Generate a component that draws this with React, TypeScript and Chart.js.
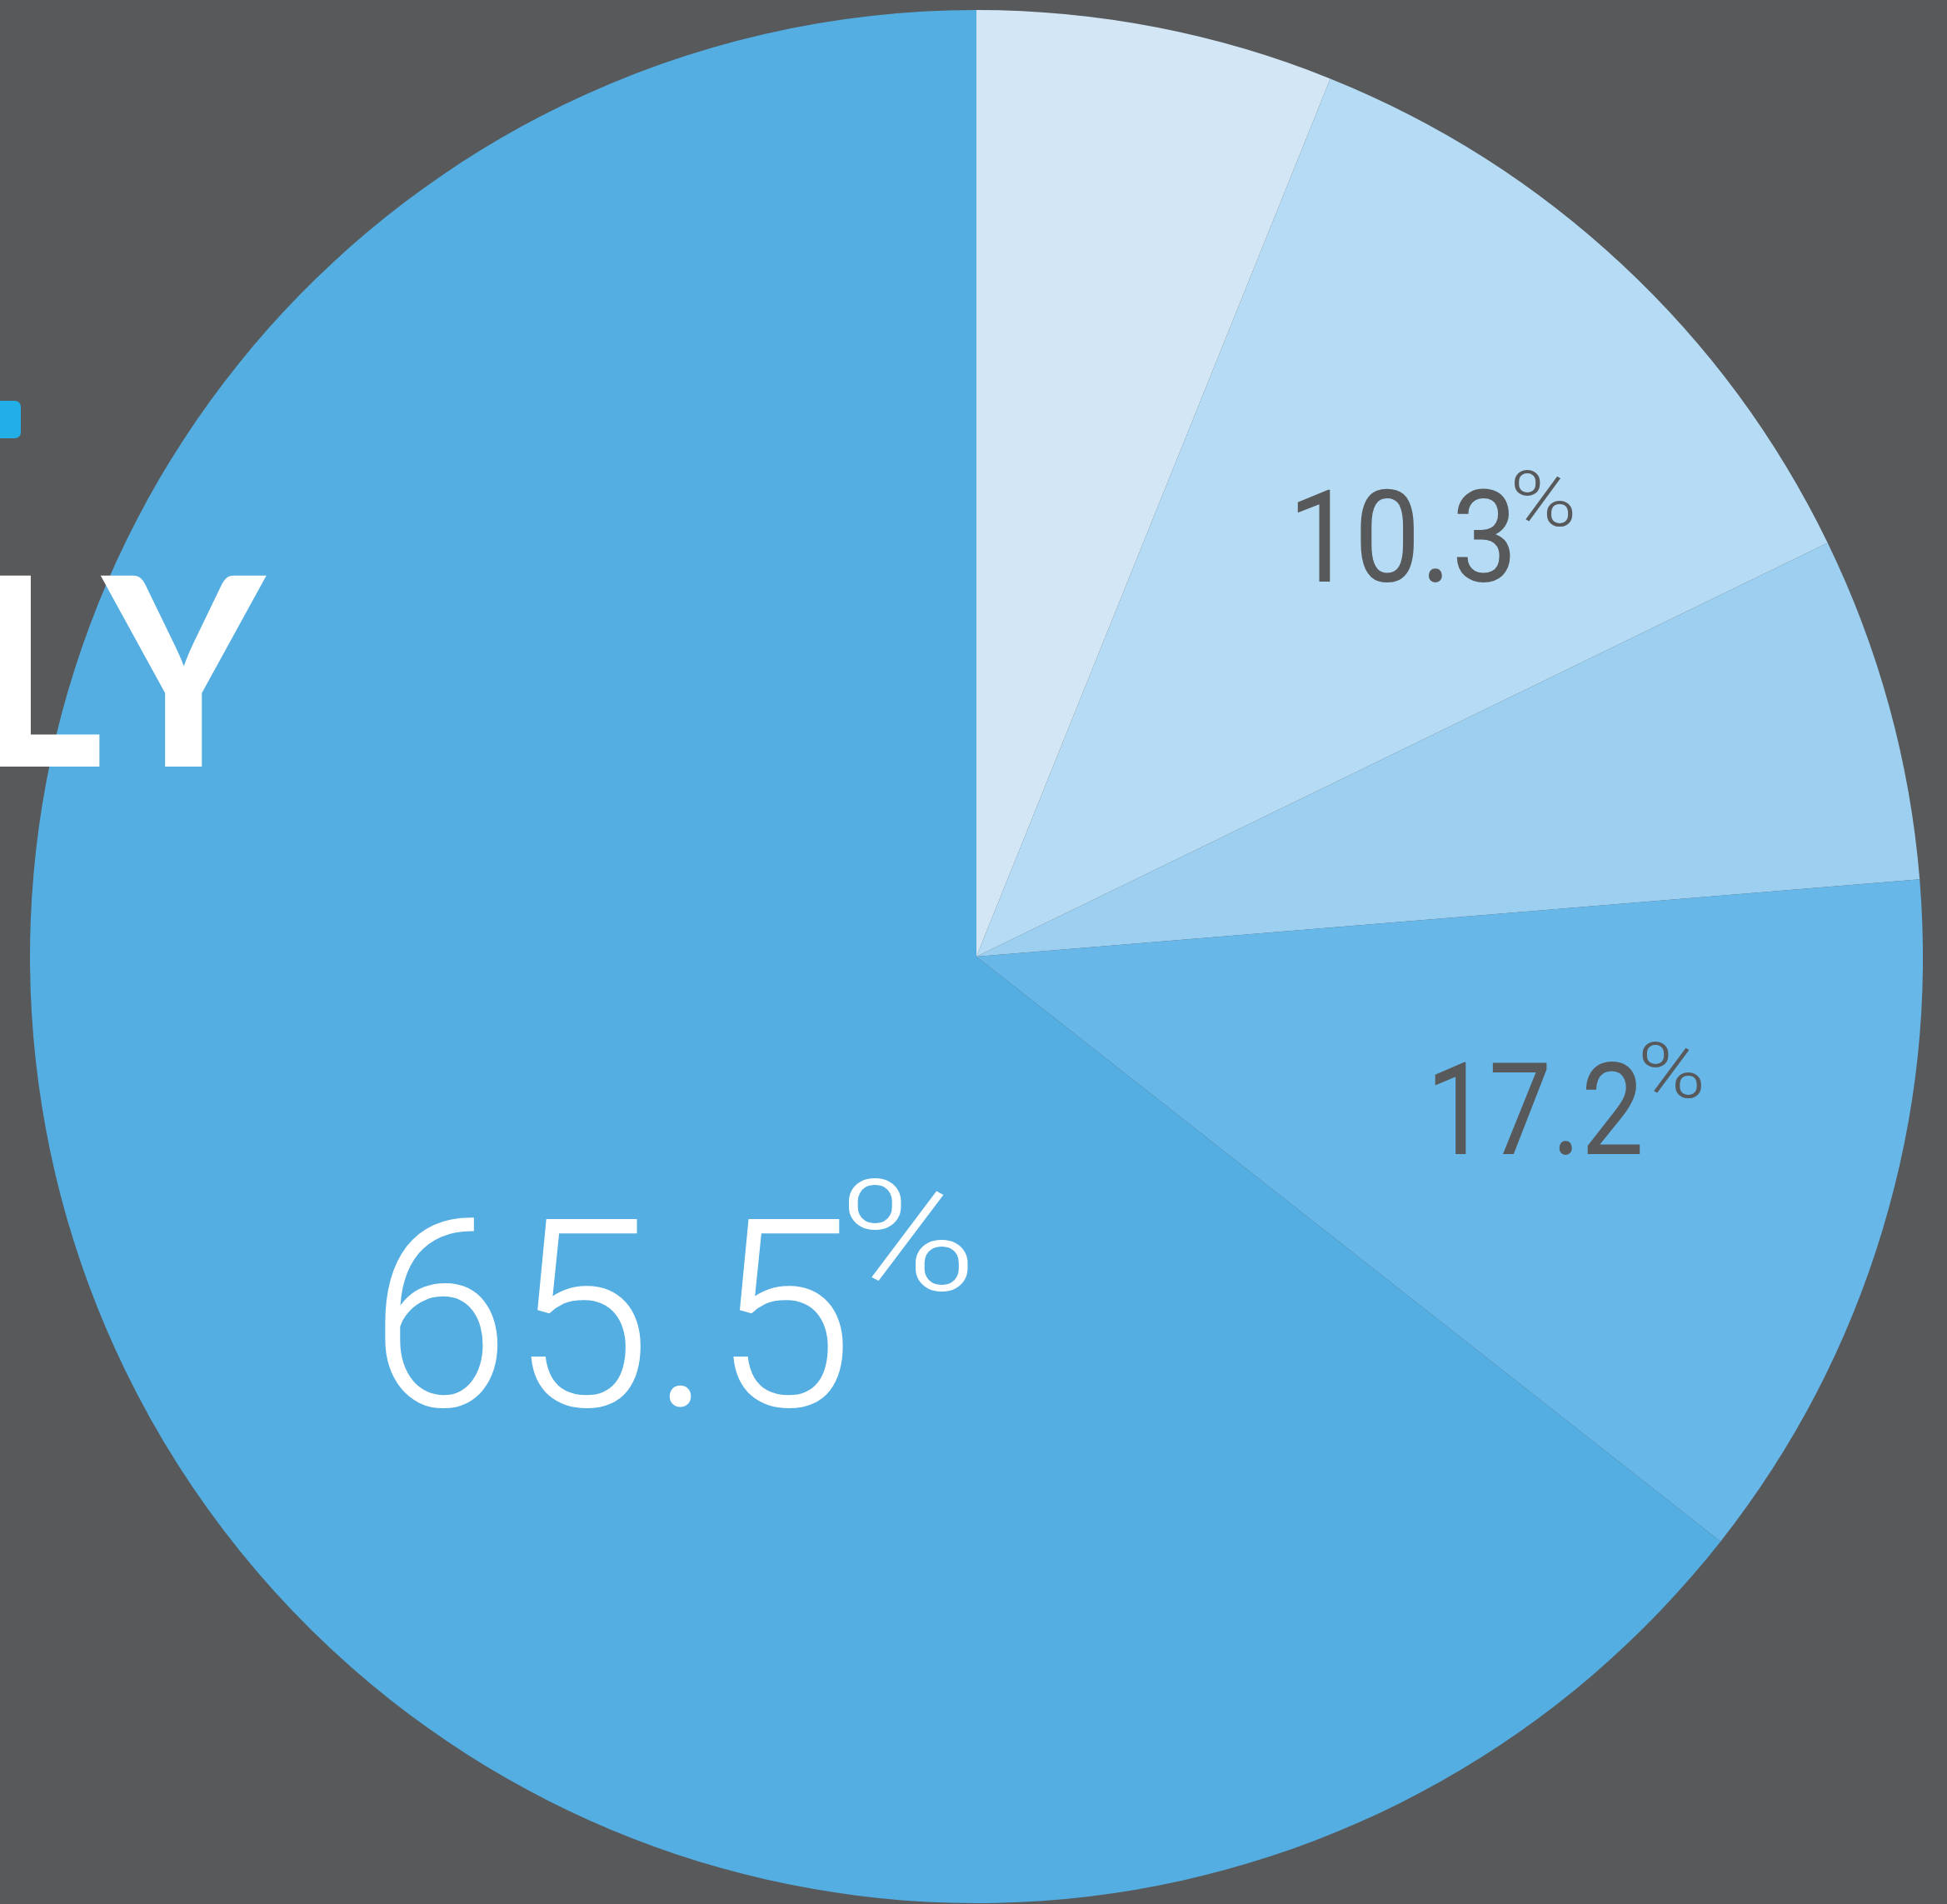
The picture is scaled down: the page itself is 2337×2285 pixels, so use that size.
import React, { useEffect, useRef } from "react";
import { Chart, registerables } from "chart.js";

Chart.register(...registerables);

const categories = ["Segment A", "Segment B", "Segment C", "Segment D", "Segment E"];
const sliceValues = [6.1, 11.7, 5.9, 11.9, 64.4];
const sliceColors = ["#d2e6f5", "#b5dcf4", "#9dd0f0", "#68b7e9", "#55aee1"];
const labelTexts = ["", "10.3", "", "17.2", "65.5"];
const labelColors = ["#58595b", "#58595b", "#58595b", "#58595b", "#ffffff"];

// label layout (fractions of outer radius, relative to pie centre)
const labelLayout: Record<number, { dx: number; dy: number; cap: number; w: number; pGap: number; pH: number; pDrop: number; pW: number; weight: string }> = {
  1: { dx: 0.339, dy: -0.396, cap: 0.0986, w: 0.2254, pGap: 0.0044, pH: 0.0599, pDrop: 0.0396, pW: 0.0616, weight: "400" },
  3: { dx: 0.484, dy: 0.209, cap: 0.0995, w: 0.2174, pGap: 0.0026, pH: 0.0599, pDrop: 0.0396, pW: 0.0625, weight: "400" },
  4: { dx: -0.625, dy: 0.4745, cap: 0.1998, w: 0.485, pGap: 0.0053, pH: 0.1197, pDrop: 0.0775, pW: 0.1259, weight: "300" },
};

const NUM_FONT = "'Roboto', 'Open Sans', sans-serif";

function drawFitted(ctx: CanvasRenderingContext2D, text: string, left: number, baseline: number, capH: number, width: number, color: string, weight: string) {
  const base = 100;
  ctx.font = `${weight} ${base}px ${NUM_FONT}`;
  const m = ctx.measureText(text);
  const asc = m.actualBoundingBoxAscent;
  const size = base * (capH / asc);
  ctx.font = `${weight} ${size}px ${NUM_FONT}`;
  const m2 = ctx.measureText(text);
  const inkW = m2.actualBoundingBoxLeft + m2.actualBoundingBoxRight;
  const sx = width / inkW;
  ctx.save();
  ctx.translate(left, baseline);
  ctx.scale(sx, 1);
  ctx.fillStyle = color;
  ctx.textAlign = "left";
  ctx.textBaseline = "alphabetic";
  ctx.fillText(text, m2.actualBoundingBoxLeft, 0);
  ctx.restore();
}

function drawInkRight(ctx: CanvasRenderingContext2D, text: string, inkRight: number, baseline: number, sx: number) {
  const m = ctx.measureText(text);
  ctx.save();
  ctx.translate(inkRight, baseline);
  ctx.scale(sx, 1);
  ctx.textAlign = "left";
  ctx.textBaseline = "alphabetic";
  ctx.fillText(text, -m.actualBoundingBoxRight, 0);
  ctx.restore();
}

const overlayPlugin = {
  id: "overlay",
  afterDraw(chart: any) {
    const ctx: CanvasRenderingContext2D = chart.ctx;
    const arc = chart.getDatasetMeta(0).data[0];
    const cx = arc.x;
    const cy = arc.y;
    const r = arc.outerRadius;

    labelTexts.forEach((t, i) => {
      const L = labelLayout[i];
      if (!t || !L) return;
      const left = cx + L.dx * r;
      const baseline = cy + L.dy * r;
      const capH = L.cap * r;
      const w = L.w * r;
      drawFitted(ctx, t, left, baseline, capH, w, labelColors[i], L.weight);
      const pLeft = left + w + L.pGap * r;
      const pBase = baseline - capH + L.pDrop * r;
      drawFitted(ctx, "%", pLeft, pBase, L.pH * r, L.pW * r, labelColors[i], "300");
    });

    // partial title decorations
    ctx.save();
    ctx.fillStyle = "#22aee6";
    ctx.beginPath();
    (ctx as any).roundRect(-20, 481, 45, 45, 7);
    ctx.fill();

    ctx.fillStyle = "#ffffff";
    ctx.font = "900 316px 'Lato', 'Open Sans', sans-serif";
    drawInkRight(ctx, "Y", 321, 920, 0.93);
    drawInkRight(ctx, "L", 122, 920, 0.93);
    ctx.restore();
  },
};

export default function App() {
  const ref = useRef<HTMLCanvasElement | null>(null);

  useEffect(() => {
    if (!ref.current) return;
    const chart = new Chart(ref.current, {
      type: "pie",
      data: {
        labels: categories,
        datasets: [
          {
            data: sliceValues,
            backgroundColor: sliceColors,
            borderWidth: 0,
          },
        ],
      },
      options: {
        responsive: false,
        animation: false,
        devicePixelRatio: 1,
        layout: { padding: { left: 36, top: 12, right: 29, bottom: 1 } },
        plugins: {
          legend: { display: false },
          tooltip: { enabled: false },
        },
      },
      plugins: [overlayPlugin],
    });
    return () => chart.destroy();
  }, []);

  return (
    <div style={{ position: "fixed", left: 0, top: 0, width: 2337, height: 2285, background: "#58595b", overflow: "hidden" }}>
      <canvas ref={ref} width={2337} height={2285} style={{ width: 2337, height: 2285, display: "block" }} />
    </div>
  );
}
